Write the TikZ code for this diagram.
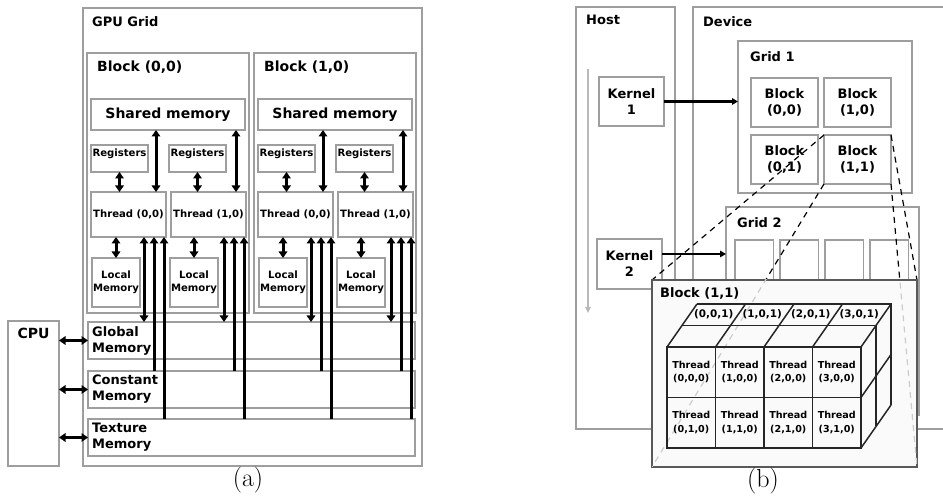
\documentclass[tikz,border=0pt]{standalone}
\usepackage{fontspec}
\newfontfamily\dejavu{DejaVu Sans}
\usetikzlibrary{arrows.meta,positioning}
\definecolor{boxgray}{gray}{0.62}
\definecolor{edgegray}{gray}{0.35}
\tikzset{
  box/.style={draw=boxgray, line width=1.8pt, inner sep=0pt, outer sep=0pt, anchor=north west, align=center},
  title/.style={font=\dejavu\bfseries\fontsize{13}{16}\selectfont, inner sep=0pt, anchor=west, align=left},
  bigtitle/.style={font=\dejavu\bfseries\fontsize{14}{17}\selectfont, inner sep=0pt},
  small/.style={font=\dejavu\bfseries\fontsize{10.1}{13.5}\selectfont, inner sep=0pt, align=center},
  dbl/.style={{Triangle[width=8.5pt,length=6.5pt]}-{Triangle[width=8.5pt,length=6.5pt]}, line width=3pt},
  one/.style={{Triangle[width=8.5pt,length=6.5pt]}-, line width=3pt},
  call/.style={-{Triangle[width=6.5pt,length=6pt]}, line width=2.3pt},
  hostarrow/.style={-{Triangle[width=5.5pt,length=6pt]}, line width=2.2pt, draw=gray!55},
  zoomline/.style={dash pattern=on 6pt off 5pt, line width=1.2pt},
  zoombox/.style={draw=edgegray, line width=2.2pt, fill=gray!4, inner sep=0pt, outer sep=0pt, anchor=north west},
  cell/.style={draw=black!85, line width=1.5pt, minimum width=48.5pt, minimum height=50.5pt, inner sep=0pt, outer sep=0pt, align=center, font=\dejavu\bfseries\fontsize{9.6}{13.5}\selectfont},
  cubeline/.style={draw=black!85, line width=1.5pt},
  caption/.style={font=\fontsize{26}{28}\selectfont, inner sep=0pt},
}

\begin{document}
\begin{tikzpicture}[x=1pt, y=-1pt]
\useasboundingbox (0,0) rectangle (943,502);

% (a) memory hierarchy
\node[box, minimum width=339pt, minimum height=458pt] (gpugrid) at (83,8) {};
\node[title] (gputitle) at ([shift={(9,14)}]gpugrid.north west) {GPU Grid};

\foreach \m/\y/\txt in {glob/322/Global, const/371/Constant, tex/419/Texture} {
  \node[box, minimum width=327pt, minimum height=37pt] (\m) at (88,\y) {};
  \node[title, font=\dejavu\bfseries\fontsize{13}{16}\selectfont] (\m-txt) at ([xshift=4pt]\m.west) {\txt\\Memory};
}

\node[box, minimum width=51pt, minimum height=145pt] (cpu) at (8,321) {};
\node[bigtitle, anchor=north] (cpu-txt) at ([yshift=-7pt]cpu.north) {CPU};
\foreach \m in {glob,const,tex}
  \draw[dbl] (cpu.east |- \m.west) -- (\m.west);

\foreach \b/\x/\n in {A/87/0, B/254/1} {
  \node[box, minimum width=162pt, minimum height=260pt] (blk\b) at (\x,53) {};
  \node[title, font=\dejavu\bfseries\fontsize{14}{17}\selectfont] (blk\b-txt) at ([shift={(10,14)}]blk\b.north west) {Block (\n,0)};
  \node[box, bigtitle, minimum width=154pt, minimum height=31pt, anchor=north west] (shm\b) at ({\x+4},99) {Shared memory};
  \foreach \t in {0,1} {
    \node[box, minimum width=57pt, minimum height=27pt] (reg\b\t) at ({\x+4+78*\t},145) {};
    \node[small, anchor=north] (reg\b\t-txt) at ([yshift=-4pt]reg\b\t.north) {Registers};
    \node[box, small, minimum width=75pt, minimum height=45pt, anchor=north west] (thr\b\t) at ({\x+4+80*\t},192) {Thread (\t,0)};
    \node[box, small, minimum width=48pt, minimum height=49pt, anchor=north west] (loc\b\t) at ({\x+5+78*\t},258) {Local\\Memory};
    % thread links
    \draw[dbl] (reg\b\t.south) -- (reg\b\t.south |- thr\b\t.north);
    \draw[dbl] ([xshift=-10pt]thr\b\t.north east) -- ([xshift=-10pt]thr\b\t.north east |- shm\b.south);
    \draw[dbl] (loc\b\t.north) -- (loc\b\t.north |- thr\b\t.south);
    \draw[dbl] ([xshift=-22pt]thr\b\t.south east) -- ([xshift=-22pt]thr\b\t.south east |- glob.north);
    \draw[one] ([xshift=-12pt]thr\b\t.south east) -- ([xshift=-12pt]thr\b\t.south east |- const.north);
    \draw[one] ([xshift=-2pt]thr\b\t.south east) -- ([xshift=-2pt]thr\b\t.south east |- tex.north);
  }
}
\node[caption] (capa) at (248,480) {(a)};

% (b) host and device
\node[box, minimum width=99pt, minimum height=422pt] (host) at (576,7) {};
\node[title] (host-txt) at ([shift={(10,13)}]host.north west) {Host};
\coordinate (hosttop) at (588,69);
\coordinate (hostbot) at (588,313);
\draw[hostarrow] (hosttop) -- (hostbot);

\coordinate (device) at (693,7);
\draw[boxgray, line width=1.8pt] (943,7) -| (693,429) -- (943,429);
\node[title] (device-txt) at ([shift={(10,15)}]device) {Device};

\node[box, title, anchor=north west, align=center, minimum width=65pt, minimum height=49pt] (ker1) at (599,77) {Kernel\\1};
\node[box, title, anchor=north west, align=center, minimum width=65pt, minimum height=50pt] (ker2) at (597,239) {Kernel\\2};

\node[box, minimum width=174pt, minimum height=152pt] (grid1) at (738,41) {};
\node[title] (grid1-txt) at ([shift={(12,16)}]grid1.north west) {Grid 1};
\node[box, title, anchor=north west, align=center, minimum width=67pt, minimum height=49pt] (g1b00) at (751,78) {Block\\(0,0)};
\node[box, title, align=center, minimum width=67pt, minimum height=49pt, right=6pt of g1b00] (g1b10) {Block\\(1,0)};
\node[box, title, align=center, minimum width=67pt, minimum height=49pt, below=8pt of g1b00] (g1b01) {Block\\(0,1)};
\node[box, title, align=center, minimum width=67pt, minimum height=49pt, right=6pt of g1b01] (g1b11) {Block\\(1,1)};

\node[box, minimum width=193pt, minimum height=208pt] (grid2) at (726,207) {};
\node[title] (grid2-txt) at ([shift={(11,16)}]grid2.north west) {Grid 2};
\foreach \i in {0,...,3}
  \node[box, minimum width=38.5pt, minimum height=50pt] (g2b\i) at ({735+45*\i},240) {};

\draw[call] (ker1.east) -- (ker1.east -| grid1.west);
\draw[call] ([yshift=10pt]ker2.east) -- ([yshift=10pt]ker2.east -| grid2.west);

% zoom of block (1,1)
\coordinate (zoomnw) at (652,280);
\coordinate (zoomse) at (917,467);
\draw[zoomline] (g1b11.north west) -- (zoomnw);
\draw[zoomline] (g1b11.south west) -- (zoomnw |- zoomse);
\draw[zoomline] (g1b11.north east) -- (zoomse |- zoomnw);
\draw[zoomline] (g1b11.south east) -- (zoomse);
\node[zoombox, minimum width=265pt, minimum height=187pt] (blk11) at (zoomnw) {};
\begin{scope}
  \clip (blk11.north west) rectangle (blk11.south east);
  \draw[zoomline, gray!40] (g1b11.south west) -- (zoomnw |- zoomse);
  \draw[zoomline, gray!40] (g1b11.south east) -- (zoomse);
\end{scope}
\node[title] (blk11-txt) at ([shift={(8,13)}]blk11.north west) {Block (1,1)};

% threads
\foreach \i in {0,...,3}
  \foreach \j in {0,1}
    \node[cell] (t\i\j) at ({691.25+48.5*\i},{372.25+50.5*\j}) {Thread\\(\i,\j,0)};
\foreach \i in {0,...,3}
  \draw[cubeline] (t\i0.north west) -- ++(30,-43);
\draw[cubeline] (t30.north east) -- ++(30,-43);
\draw[cubeline] (t30.south east) -- ++(30,-43);
\draw[cubeline] (t31.south east) -- ++(30,-43);
\draw[cubeline] ([shift={(15,-21.5)}]t00.north west) -- ([shift={(15,-21.5)}]t30.north east) -- ([shift={(15,-21.5)}]t31.south east);
\draw[cubeline] ([shift={(30,-43)}]t00.north west) -- ([shift={(30,-43)}]t30.north east) -- ([shift={(30,-43)}]t31.south east);
\foreach \i in {0,...,3}
  \node[small, font=\dejavu\bfseries\fontsize{10.4}{13}\selectfont] (b\i) at ([shift={(22.5,-32.25)}]t\i0.north) {(\i,0,1)};

\node[caption] (capb) at (763,481) {(b)};
\end{tikzpicture}
\end{document}
